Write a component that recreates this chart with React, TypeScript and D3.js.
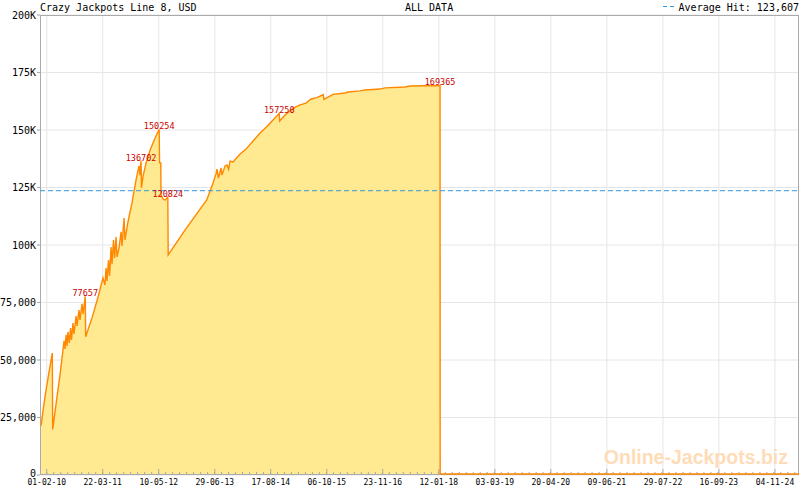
import React from "react";
import * as d3 from "d3";

const DATES = [
  "2009-12-21", "2010-01-05", "2010-01-27", "2010-02-18", "2010-03-14", "2010-03-17",
  "2010-04-11", "2010-05-10", "2010-06-09", "2010-06-16", "2010-06-24", "2010-07-01",
  "2010-07-08", "2010-07-18", "2010-07-27", "2010-08-03", "2010-08-14", "2010-08-22",
  "2010-09-06", "2010-09-13", "2010-09-28", "2010-10-05", "2010-10-20", "2010-10-28",
  "2010-11-13", "2010-11-16", "2011-01-02", "2011-02-16", "2011-03-24", "2011-04-08",
  "2011-04-16", "2011-04-23", "2011-05-04", "2011-05-12", "2011-05-23", "2011-05-30",
  "2011-06-10", "2011-06-18", "2011-06-29", "2011-07-06", "2011-07-21", "2011-08-05",
  "2011-08-12", "2011-08-27", "2011-09-03", "2011-09-25", "2011-10-25", "2011-11-24",
  "2011-12-16", "2011-12-23", "2011-12-31", "2012-01-03", "2012-01-15", "2012-02-06",
  "2012-03-07", "2012-04-13", "2012-05-13", "2012-05-16", "2012-05-25", "2012-05-27",
  "2012-06-11", "2012-06-25", "2012-07-16", "2012-07-19", "2012-11-20", "2013-04-30",
  "2013-06-16", "2013-07-08", "2013-07-15", "2013-07-26", "2013-08-14", "2013-08-21",
  "2013-09-13", "2013-09-27", "2013-10-09", "2013-10-20", "2013-11-11", "2014-01-02",
  "2014-02-15", "2014-04-08", "2014-05-30", "2014-07-18", "2014-08-27", "2014-10-19",
  "2014-10-22", "2014-12-01", "2015-01-29", "2015-03-22", "2015-05-05", "2015-06-11",
  "2015-07-26", "2015-09-10", "2015-09-14", "2015-11-21", "2016-02-18", "2016-03-11",
  "2016-06-08", "2016-07-15", "2016-11-03", "2016-12-10", "2017-05-07", "2017-06-13",
  "2018-01-21", "2018-01-22", "2025-05-01",
];

const VALUES = [
  21500, 28300, 37000, 44800, 53000, 19800,
  30900, 43500, 58300, 54800, 60900, 56100,
  62200, 57400, 63900, 58700, 66100, 61300,
  69100, 64800, 71700, 67400, 74400, 70000,
  77657, 60100, 68300, 77400, 85700, 82600,
  90000, 84400, 93500, 86500, 99100, 91700,
  102200, 94400, 103500, 94800, 98700, 105700,
  99600, 111700, 102200, 110000, 118300, 128300,
  134400, 130400, 136702, 124800, 130000, 135700,
  141300, 146500, 150254, 135700, 135700, 121700,
  120000, 119500, 120824, 95700, 106500, 119600,
  127000, 130900, 133000, 129100, 133500, 130400,
  134400, 134800, 133000, 136500, 136100, 139600,
  141700, 145200, 148700, 151400, 153900, 157250,
  153900, 156500, 159400, 160900, 161700, 163500,
  164100, 165400, 163300, 165500, 166100, 166500,
  167000, 167400, 167800, 168300, 168700, 169100,
  169365, 0, 0,
];

const PEAK_VALUES = [77657, 136702, 150254, 120824, 157250, 169365];
const AVERAGE_HIT = 123607;

const X_DOMAIN = ["2009-12-13", "2025-05-01"];
const X_TICKS = [
  "2010-02-01", "2011-03-22", "2012-05-10", "2013-06-29", "2014-08-17",
  "2015-10-06", "2016-11-23", "2018-01-12", "2019-03-03", "2020-04-20",
  "2021-06-09", "2022-07-29", "2023-09-16", "2024-11-04",
];
const Y_TICKS = [0, 25000, 50000, 75000, 100000, 125000, 150000, 175000, 200000];
const Y_LABELS = ["0", "25,000", "50,000", "75,000", "100K", "125K", "150K", "175K", "200K"];

const TITLE = "Crazy Jackpots Line 8, USD";
const SUBTITLE = "ALL DATA";
const LEGEND = "Average Hit: 123,607";
const WATERMARK = "Online-Jackpots.biz";

const W = 800;
const H = 490;
const M = { left: 40, right: 799, top: 15, bottom: 475 };
const MONO = "'DejaVu Sans Mono', monospace";

export default function App() {
  const parse = d3.timeParse("%Y-%m-%d");
  const fmt = d3.timeFormat("%d-%m-%y");
  const data = DATES.map((d, i) => ({ date: parse(d) as Date, value: VALUES[i] }));

  const x = d3
    .scaleTime()
    .domain(X_DOMAIN.map((d) => parse(d) as Date))
    .range([M.left, M.right]);
  const y = d3.scaleLinear().domain([0, 200000]).range([M.bottom, M.top]);

  const area = d3
    .area<{ date: Date; value: number }>()
    .x((d) => x(d.date))
    .y0(y(0))
    .y1((d) => y(d.value));
  const line = d3
    .line<{ date: Date; value: number }>()
    .x((d) => x(d.date))
    .y((d) => Math.min(y(d.value), M.bottom - 1));

  const ticks = X_TICKS.map((d) => parse(d) as Date);
  const step = (ticks[1].getTime() - ticks[0].getTime()) / 8;
  const [d0, d1] = x.domain().map((d) => d.getTime());
  const minor: number[] = [];
  for (let t = ticks[0].getTime(); t >= d0; t -= step) minor.push(t);
  for (let t = ticks[0].getTime() + step; t <= d1; t += step) minor.push(t);

  const peaks = PEAK_VALUES.map((v) => data.find((d) => d.value === v)!).filter(Boolean);

  return (
    <svg
      width={W}
      height={H}
      style={{ position: "absolute", left: 0, top: 0, background: "#fff" }}
    >
      <rect x={0} y={0} width={W} height={H} fill="#fff" />
      {/* grid */}
      {ticks.map((t, i) => (
        <line key={"gx" + i} x1={x(t)} x2={x(t)} y1={M.top} y2={M.bottom} stroke="#e6e6e6" />
      ))}
      {Y_TICKS.map((v, i) => (
        <line key={"gy" + i} x1={M.left - 3} x2={M.right} y1={y(v)} y2={y(v)} stroke="#e6e6e6" />
      ))}
      {Y_TICKS.map((v, i) => (
        <line key={"ty" + i} x1={M.left - 3} x2={M.left} y1={y(v)} y2={y(v)} stroke="#aaa" />
      ))}

      {/* area */}
      <path d={area(data) || ""} fill="#ffe991" stroke="none" />

      {/* frame */}
      <line x1={M.left + 0.5} x2={M.left + 0.5} y1={M.top} y2={M.bottom} stroke="#aaa" />
      <line x1={M.left} x2={M.right} y1={M.top + 0.5} y2={M.top + 0.5} stroke="#aaa" />
      <line x1={M.right - 0.5} x2={M.right - 0.5} y1={M.top} y2={M.bottom} stroke="#aaa" />
      <line x1={M.left} x2={M.right} y1={M.bottom - 0.5} y2={M.bottom - 0.5} stroke="#aaa" />

      {/* x ticks */}
      {minor.map((t, i) => (
        <line
          key={"mt" + i}
          x1={x(new Date(t))}
          x2={x(new Date(t))}
          y1={M.bottom - 3}
          y2={M.bottom}
          stroke="#aaa"
        />
      ))}
      {ticks.map((t, i) => (
        <line key={"xt" + i} x1={x(t)} x2={x(t)} y1={M.bottom - 6} y2={M.bottom} stroke="#aaa" />
      ))}

      {/* watermark */}
      <text
        x={788}
        y={464}
        textAnchor="end"
        fontFamily="'Liberation Sans', Arial, sans-serif"
        fontWeight="bold"
        fontSize={19.5}
        fill="#ffdcb8"
      >
        {WATERMARK}
      </text>

      {/* line */}
      <path d={line(data) || ""} fill="none" stroke="#ff8800" strokeWidth={1.4} />

      {/* average */}
      <line
        x1={M.left}
        x2={M.right}
        y1={y(AVERAGE_HIT)}
        y2={y(AVERAGE_HIT)}
        stroke="#3399dd"
        strokeDasharray="5,3"
      />

      {/* peak labels */}
      {peaks.map((p, i) => (
        <text
          key={"pk" + i}
          x={x(p.date)}
          y={y(p.value)}
          textAnchor="middle"
          fontFamily={MONO}
          fontSize={8.5}
          fill="#cc0000"
        >
          {String(p.value)}
        </text>
      ))}

      {/* axis labels */}
      {Y_TICKS.map((v, i) => (
        <text
          key={"yl" + i}
          x={36}
          y={v === 0 ? y(v) - 2 : y(v)}
          dy="0.35em"
          textAnchor="end"
          fontFamily={MONO}
          fontSize={10}
          fill="#000"
        >
          {Y_LABELS[i]}
        </text>
      ))}
      {ticks.map((t, i) => (
        <text
          key={"xl" + i}
          x={x(t)}
          y={485}
          textAnchor="middle"
          fontFamily={MONO}
          fontSize={8}
          fill="#000"
        >
          {fmt(t)}
        </text>
      ))}

      {/* header */}
      <text x={40} y={10.5} fontFamily={MONO} fontSize={10} fill="#000">
        {TITLE}
      </text>
      <text x={405} y={10.5} fontFamily={MONO} fontSize={10} fill="#000">
        {SUBTITLE}
      </text>
      <line x1={663} x2={677} y1={6.5} y2={6.5} stroke="#3399dd" strokeDasharray="4,3" />
      <text x={799} y={10.5} textAnchor="end" fontFamily={MONO} fontSize={10} fill="#000">
        {LEGEND}
      </text>
    </svg>
  );
}
